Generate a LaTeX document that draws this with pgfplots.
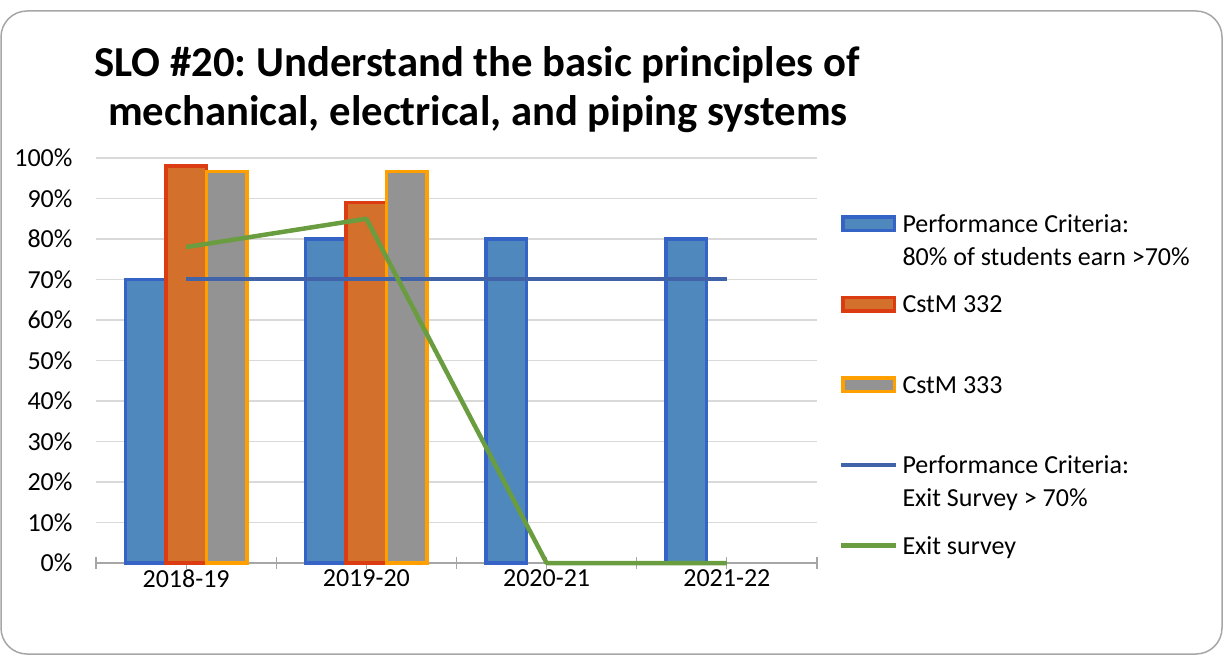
\documentclass[border=0pt]{standalone}
\usepackage{fontspec}
\setmainfont{Carlito}
\usepackage{pgfplots}
\pgfplotsset{compat=1.18}

\definecolor{pcblue}{HTML}{4F88BC}
\definecolor{pcblueedge}{HTML}{3563C6}
\definecolor{c332}{HTML}{D2702C}
\definecolor{c332edge}{HTML}{DC3C12}
\definecolor{c333}{HTML}{939393}
\definecolor{c333edge}{HTML}{FF9F00}
\definecolor{pcline}{HTML}{4063AA}
\definecolor{exitgreen}{HTML}{6A9D3F}
\definecolor{gridgray}{HTML}{D9D9D9}
\definecolor{axisgray}{HTML}{A6A6A6}

\newcommand{\lgfont}{\fontsize{26}{33}\selectfont}

% legend images carry an invisible box so that every row is 80.5pt from the next
\pgfplotsset{
  barleg/.style={legend image code/.code={
    \path[draw=none, fill=none] (0pt,-56.5pt) rectangle (55pt,24pt);
    \draw[line width=3.5pt] (1.75pt,1.75pt) rectangle (53.25pt,15.25pt);}},
  lineleg/.style={legend image code/.code={
    \path[draw=none, fill=none] (0pt,-56.5pt) rectangle (55pt,24pt);
    \draw (0pt,8.5pt) -- (55pt,8.5pt);}},
}

\begin{document}
\frenchspacing
\begin{tikzpicture}
\useasboundingbox (0,0) rectangle (1225pt,656pt);
\draw[axisgray, line width=1.5pt, rounded corners=26pt] (1pt,2pt) rectangle (1222pt,645pt);

\begin{axis}[
  at={(96pt,93pt)}, anchor=south west,
  scale only axis, width=721pt, height=405pt,
  xmin=-0.5, xmax=3.5, ymin=0, ymax=100,
  clip=false,
  axis x line*=bottom, axis y line*=left,
  y axis line style={draw=none},
  x axis line style={axisgray, line width=1.2pt, -},
  xtick={0,1,2,3},
  xticklabels={2018-19,2019-20,2020-21,2021-22},
  extra x ticks={-0.5,0.5,1.5,2.5,3.5},
  extra x tick labels={},
  extra x tick style={grid=none},
  tick align=center, major tick length=12pt,
  xtick style={axisgray, line width=1.2pt},
  ytick={0,10,...,100},
  yticklabel={\pgfmathprintnumber{\tick}\%},
  ytick style={draw=none},
  ymajorgrids, grid style={gridgray, line width=1.2pt},
  tick label style={font=\lgfont},
  yticklabel style={xshift=-14pt},
  xticklabel style={yshift=3pt},
  /pgf/number format/assume math mode=true,
  legend style={at={(1.0305,0.8765)}, anchor=north west, draw=none, fill=none,
    inner sep=0pt, outer sep=0pt, row sep=0pt, column sep=4pt,
    font=\lgfont, cells={anchor=base west}, nodes={inner sep=0pt}},
]

\addplot[ybar, bar width=40.5pt, bar shift=-40.5pt, fill=pcblue, draw=pcblueedge, line width=3.5pt, barleg]
  coordinates {(0,70) (1,80) (2,80) (3,80)};
\addlegendentry{{\begin{tabular}[t]{@{}l@{}}Performance Criteria:\\80\% of students earn >70\%\end{tabular}}}

\addplot[ybar, bar width=40.5pt, bar shift=0pt, fill=c332, draw=c332edge, line width=3.5pt, barleg]
  coordinates {(0,98) (1,89)};
\addlegendentry{CstM 332}

\addplot[ybar, bar width=40.5pt, bar shift=40.5pt, fill=c333, draw=c333edge, line width=3.5pt, barleg]
  coordinates {(0,96.7) (1,96.7)};
\addlegendentry{CstM 333}

\addplot[pcline, line width=4pt, mark=none, lineleg]
  coordinates {(0,70) (1,70) (2,70) (3,70)};
\addlegendentry{{\begin{tabular}[t]{@{}l@{}}Performance Criteria:\\Exit Survey > 70\%\end{tabular}}}

\addplot[exitgreen, line width=4.5pt, mark=none, line join=round, lineleg]
  coordinates {(0,78) (1,85) (2,0) (3,0)};
\addlegendentry{Exit survey}

\end{axis}

\node[anchor=base, font=\fontsize{42.7}{52}\selectfont\bfseries] at (477pt,579pt) {SLO \#20: Understand the basic principles of};
\node[anchor=base, font=\fontsize{42.7}{52}\selectfont\bfseries] at (478pt,530pt) {mechanical, electrical, and piping systems};
\end{tikzpicture}
\end{document}
